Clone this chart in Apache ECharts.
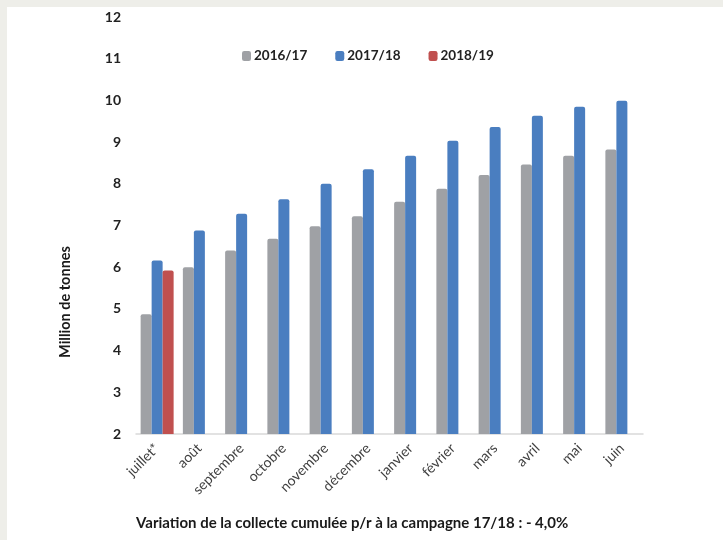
<!DOCTYPE html>
<html>
<head>
<meta charset="utf-8">
<script src="https://cdn.jsdelivr.net/npm/echarts@6/dist/echarts.min.js"></script>
<style>
  html, body { margin: 0; padding: 0; background: #fff; }
  #chartDom { width: 723px; height: 540px; }
</style>
</head>
<body>
<div id="chartDom"></div>
<script>
// mois de la campagne
var months = ['juillet*', 'août', 'septembre', 'octobre', 'novembre', 'décembre',
              'janvier', 'février', 'mars', 'avril', 'mai', 'juin'];
var seriesNames = ['2016/17', '2017/18', '2018/19'];
var values1617 = [4.87, 6.0, 6.4, 6.68, 6.98, 7.22, 7.57, 7.88, 8.21, 8.46, 8.67, 8.82];
var values1718 = [6.16, 6.88, 7.28, 7.63, 8.0, 8.35, 8.67, 9.03, 9.36, 9.63, 9.85, 9.99];
var values1819 = [5.92, null, null, null, null, null, null, null, null, null, null, null];
var colors = ['#9fa1a5', '#4a7ec0', '#c0504f'];

var font = 'Lato, "Open Sans", sans-serif';

var chartDom = echarts.init(document.getElementById('chartDom'));

function barSeries(i, data) {
    return {
        name: seriesNames[i],
        type: 'bar',
        data: data,
        barWidth: 11,
        barGap: '0%',
        itemStyle: { color: colors[i], borderRadius: [2, 2, 0, 0] }
    };
}

chartDom.setOption({
    backgroundColor: '#fff',
    animation: false,
    textStyle: { fontFamily: font },
    graphic: [
        // cadre gris en haut et à gauche
        { type: 'rect', left: 0, top: 0, shape: { width: 723, height: 7 }, style: { fill: '#eeeee9' }, z: -1 },
        { type: 'rect', left: 0, top: 0, shape: { width: 7, height: 540 }, style: { fill: '#eeeee9' }, z: -1 },
        {
            type: 'text', x: 65, y: 302, rotation: Math.PI / 2,
            style: {
                text: 'Million de tonnes', fill: '#1a1a1a', font: 'bold 14.5px ' + font,
                textAlign: 'center', textVerticalAlign: 'middle'
            }
        },
        {
            type: 'text', x: 136, y: 523,
            style: {
                text: 'Variation de la collecte cumulée p/r à la campagne 17/18 : - 4,0%',
                fill: '#1a1a1a', font: 'bold 15px ' + font,
                textAlign: 'left', textVerticalAlign: 'middle'
            }
        }
    ],
    legend: {
        data: seriesNames,
        left: 237,
        top: 44,
        itemWidth: 9,
        itemHeight: 10,
        itemGap: 28,
        icon: 'roundRect',
        textStyle: { fontFamily: font, fontWeight: 'bold', fontSize: 13.5, color: '#222', padding: [0, 0, 0, -2] }
    },
    grid: { left: 136, right: 80, top: 17, bottom: 106 },
    xAxis: {
        type: 'category',
        data: months,
        axisLine: { lineStyle: { color: '#d9d9d9', width: 1.5 } },
        axisTick: { show: false },
        axisLabel: { rotate: 45, margin: 12, fontSize: 14, color: '#404040', fontFamily: font, interval: 0 }
    },
    yAxis: {
        type: 'value',
        min: 2,
        max: 12,
        interval: 1,
        axisLine: { show: false },
        axisTick: { show: false },
        splitLine: { show: false },
        axisLabel: { fontSize: 14, fontWeight: 'bold', color: '#222', margin: 15, fontFamily: font }
    },
    series: [
        barSeries(0, values1617),
        barSeries(1, values1718),
        barSeries(2, values1819)
    ]
});
</script>
</body>
</html>
